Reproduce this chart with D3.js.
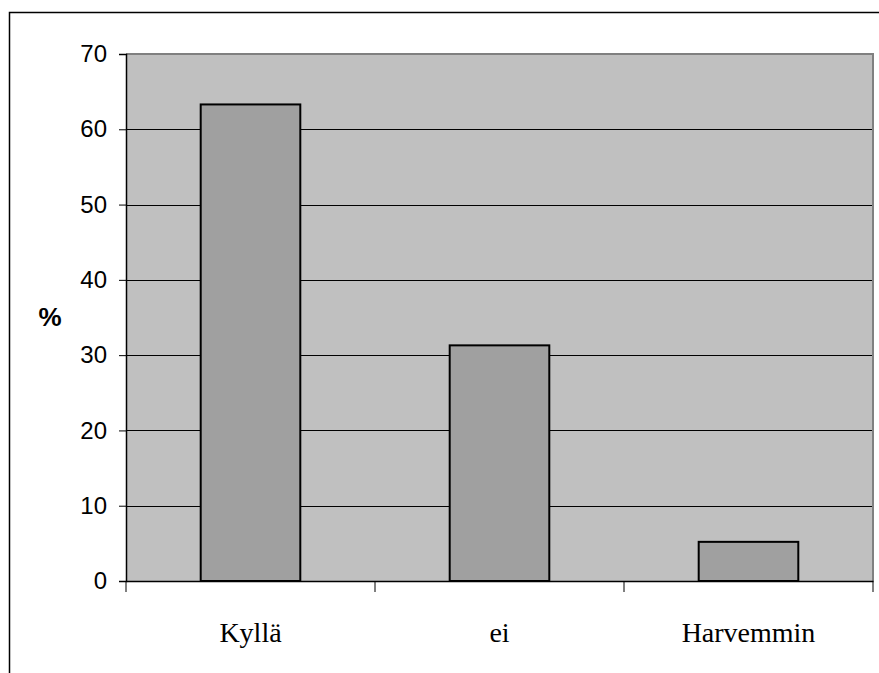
<!DOCTYPE html>
<html><head><meta charset="utf-8">
<script src="https://cdn.jsdelivr.net/npm/d3@7"></script>
<style>body{margin:0;background:#fff}svg{display:block}</style>
</head><body>
<script>
const categories = ["Kyllä", "ei", "Harvemmin"];
const values = [63.3, 31.3, 5.2];
const yTicks = [0, 10, 20, 30, 40, 50, 60, 70];
const yLabel = "%";

const W = 879, H = 673;
const m = {left: 126, top: 54, right: 873, bottom: 581};
const svg = d3.select("body").append("svg").attr("width", W).attr("height", H);

// outer frame (extends beyond the view)
svg.append("rect").attr("x", 9.5).attr("y", 12.5).attr("width", 900).attr("height", 700)
  .attr("fill", "none").attr("stroke", "#000").attr("stroke-width", 1.5);

const x = d3.scaleBand().domain(categories).range([m.left, m.right]).paddingInner(0).paddingOuter(0);
const y = d3.scaleLinear().domain([0, 70]).range([m.bottom, m.top]);

// plot area
svg.append("rect").attr("x", m.left).attr("y", m.top).attr("width", m.right - m.left).attr("height", m.bottom - m.top)
  .attr("fill", "#c0c0c0");

// gridlines
svg.append("g").selectAll("line").data(yTicks.filter(d => d > 0)).join("line")
  .attr("x1", m.left).attr("x2", m.right).attr("y1", d => Math.round(y(d)) + 0.5).attr("y2", d => Math.round(y(d)) + 0.5)
  .attr("stroke", "#000").attr("stroke-width", 1);

// plot border (grey top/right)
svg.append("path").attr("d", `M${m.left},${m.top} H${m.right} V${m.bottom}`)
  .attr("fill", "none").attr("stroke", "#808080").attr("stroke-width", 2);

// bars
const bw = x.bandwidth() * 0.4;
svg.append("g").selectAll("rect").data(values).join("rect")
  .attr("x", (d, i) => x(categories[i]) + (x.bandwidth() - bw) / 2)
  .attr("y", d => y(d))
  .attr("width", bw)
  .attr("height", d => y(0) - y(d))
  .attr("fill", "#a0a0a0").attr("stroke", "#000").attr("stroke-width", 2);

// y axis
const yAxis = d3.axisLeft(y).tickValues(yTicks).tickSize(7).tickPadding(12);
const gy = svg.append("g").attr("transform", `translate(${m.left},0)`).call(yAxis);
gy.select(".domain").attr("stroke", "#000").attr("stroke-width", 1.5);
gy.selectAll(".tick line").attr("stroke", "#000");
gy.selectAll("text").attr("font-family", "Liberation Sans, Arial, sans-serif").attr("font-size", 24).attr("fill", "#000");

// x axis
const xAxis = d3.axisBottom(x).tickSize(0).tickPadding(0);
const gx = svg.append("g").attr("transform", `translate(0,${m.bottom})`).call(xAxis);
gx.select(".domain").attr("stroke", "#000").attr("stroke-width", 1.5);
gx.selectAll("text").attr("font-family", "Liberation Serif, Times New Roman, serif").attr("font-size", 28)
  .attr("fill", "#000").attr("dy", null).attr("y", 61);
// category separator ticks
const sepPos = [m.left, ...categories.map(c => x(c) + x.bandwidth())];
gx.append("g").selectAll("line").data(sepPos).join("line")
  .attr("x1", d => d).attr("x2", d => d).attr("y1", 0).attr("y2", 11)
  .attr("stroke", "#000").attr("stroke-width", 1);

// y label
svg.append("text").attr("x", 50).attr("y", 326).attr("text-anchor", "middle")
  .attr("font-family", "Liberation Sans, Arial, sans-serif").attr("font-weight", "bold").attr("font-size", 26)
  .text(yLabel);
</script>
</body></html>
